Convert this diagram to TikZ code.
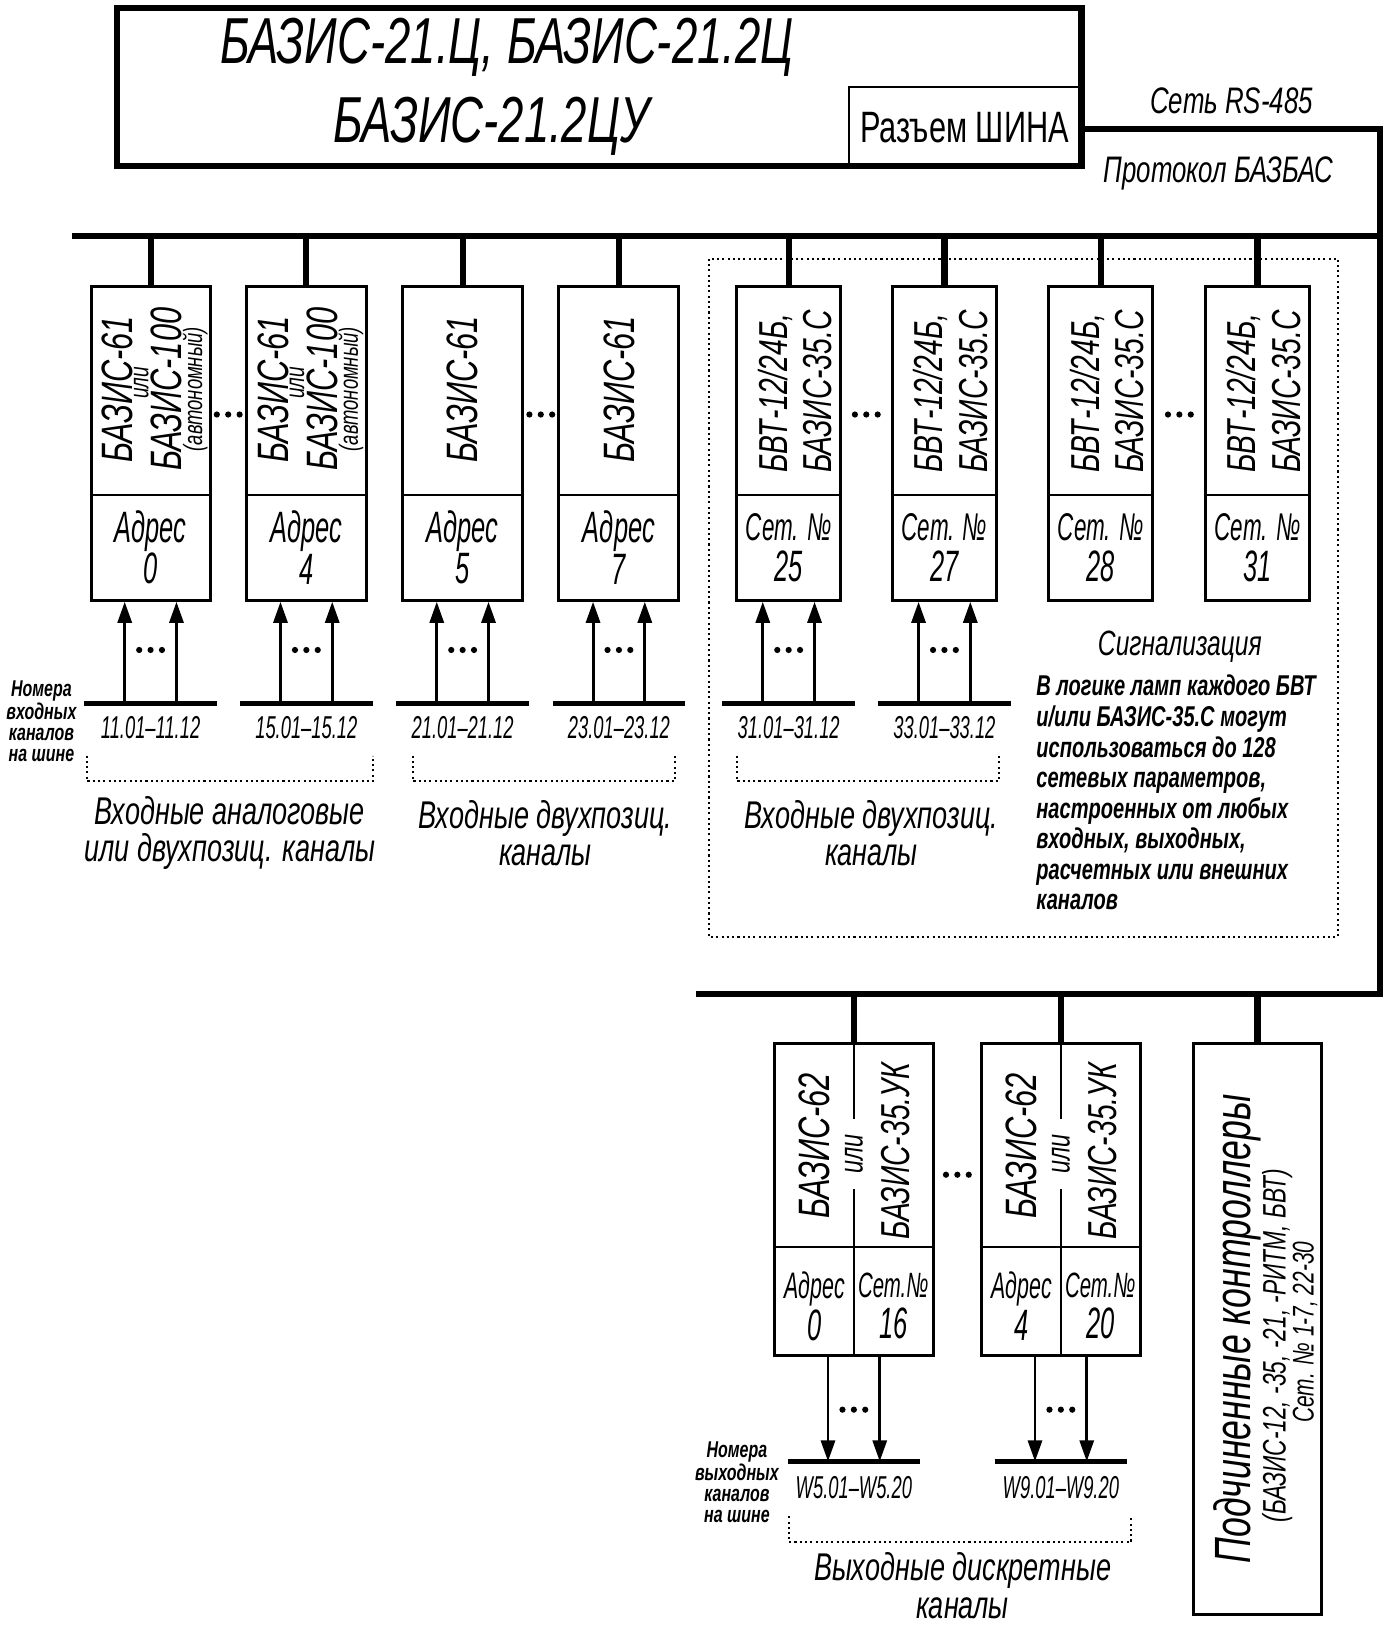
\documentclass[tikz,border=0pt]{standalone}
\usepackage{fontspec}
\setmainfont{Liberation Sans}[FakeStretch=0.7]
\newfontfamily\narrowf{Liberation Sans}[FakeStretch=0.58]
\usetikzlibrary{calc}
\usetikzlibrary{fit}
\usetikzlibrary{arrows.meta}

\tikzset{
  bus/.style={line width=3.5pt},
  bar/.style={line width=2.8pt},
  modbox/.style={draw, line width=1.7pt, inner sep=0pt},
  divline/.style={line width=1pt},
  sig/.style={line width=1.7pt, -{Triangle[length=4.2mm, width=2.8mm]}},
  dotline/.style={line width=1.2pt, dash pattern=on 1.2pt off 1.8pt},
  ttl/.style={font=\fontsize{37}{44}\selectfont\itshape, inner sep=0pt},
  lbl/.style={font=\fontsize{21}{25}\selectfont\itshape, inner sep=0pt},
  modtxt/.style={font=\fontsize{25}{25}\selectfont\itshape, rotate=90, inner sep=0pt},
  addr/.style={font=\narrowf\fontsize{25}{23.6}\selectfont\itshape, align=center, inner sep=0pt},
  chan/.style={font=\narrowf\fontsize{18}{20}\selectfont\itshape, inner sep=0pt},
  grp/.style={font=\fontsize{22}{21.2}\selectfont\itshape, align=center, inner sep=0pt},
  note/.style={font=\fontsize{13}{12}\selectfont\bfseries\itshape, align=center, inner sep=0pt},
}
\newcommand{\tridots}[1]{\foreach \dd in {-11,0,11}{\fill ($(#1)+(\dd,0)$) circle (0.62mm);}}

\begin{document}
\begin{tikzpicture}[x=0.207mm, y=-0.207mm]
\useasboundingbox (0,0) rectangle (1341,1572);

% main unit
\node[modbox, line width=3.5pt, fit={(113,8) (1045,160)}] (base) {};
\node[modbox, line width=1.2pt, fit={(820,84) (1045,160)}] (conn) {};
\node[font=\fontsize{25}{28}\selectfont, inner sep=0pt] (connt) at (932,123) {Разъем ШИНА};
\node[ttl] (ttl1) at (490,46) {БАЗИС-21.Ц, БАЗИС-21.2Ц};
\node[ttl] (ttl2) at (475,122) {БАЗИС-21.2ЦУ};

% network line
\coordinate (ne) at (1333,125);
\coordinate (se) at (1333,960);
\coordinate (tl) at (70,228);
\coordinate (tr) at (1333,228);
\coordinate (bl) at (672,960);
\draw[bus] (conn.east |- ne) -- (ne) -- (se) -- (bl);
\draw[bus] (tl) -- (tr);
\node[lbl] (rs) at (1190,97) {Сеть RS-485};
\node[lbl] (proto) at (1177,168) {Протокол БАЗБАС};

% input modules
\foreach \n/\xa/\xb in {1/88/203,2/238/354,3/389/505,4/540/656,5/712/812,6/862/963,7/1013/1114,8/1165/1265}{
  \node[modbox, fit={(\xa,277) (\xb,580)}] (m\n) {};
  \draw[divline] (m\n.west |- 0,478) -- (m\n.east |- 0,478);
  \draw[bus] (m\n.north |- tl) -- (m\n.north);
  \coordinate (mc\n) at (m\n.north |- 0,376);
}
\foreach \n in {1,2}{
  \node[modtxt] (na\n) at ($(mc\n)+(-32,0)$) {БАЗИС-61};
  \node[modtxt, font=\fontsize{15.5}{16}\selectfont\itshape] (nb\n) at ($(mc\n)+(-9,-6)$) {или};
  \node[modtxt] (nc\n) at ($(mc\n)+(15,0)$) {БАЗИС-100};
  \node[modtxt, font=\fontsize{15}{15}\selectfont\itshape] (nd\n) at ($(mc\n)+(43,0)$) {(автономный)};
}
\foreach \n in {3,4}{
  \node[modtxt] (na\n) at (mc\n) {БАЗИС-61};
}
\foreach \n in {5,...,8}{
  \node[modtxt, anchor=west, align=left, font=\fontsize{23}{25.3}\selectfont\itshape] (na\n) at ($(m\n.north |- 0,457)+(6,0)$) {БВТ-12/24Б,\\БАЗИС-35.С};
}
\foreach \n/\v in {1/0,2/4,3/5,4/7}{
  \node[addr] (ad\n) at (m\n.north |- 0,529) {Адрес\\\v};
}
\foreach \n/\v in {5/25,6/27,7/28,8/31}{
  \node[addr] (ad\n) at (m\n.north |- 0,529) {{\fontsize{22}{23.6}\selectfont Сет. №}\\\v};
}
\foreach \p/\q in {1/2,3/4,5/6,7/8}{
  \coordinate (g\p) at ($(m\p.east)!0.5!(m\q.west)+(0,-28)$);
  \tridots{g\p}
}

% input channels
\foreach \n/\lab in {1/11.01–11.12,2/15.01–15.12,3/21.01–21.12,4/23.01–23.12,5/31.01–31.12,6/33.01–33.12}{
  \coordinate (b\n) at (m\n.south |- 0,680);
  \draw[bar] ($(b\n)+(-64,0)$) -- ($(b\n)+(64,0)$);
  \draw[sig] ($(b\n)+(-25,0)$) -- ($(m\n.south)+(-25,0)$);
  \draw[sig] ($(b\n)+(25,0)$) -- ($(m\n.south)+(25,0)$);
  \coordinate (d\n) at ($(b\n)+(0,-52)$);
  \tridots{d\n}
  \node[chan] (ch\n) at ($(b\n)+(0,23)$) {\lab};
}
\node[note] (inno) at (40,697) {Номера\\входных\\каналов\\на шине};
\draw[dotline] (84,730) -- (84,755) -- (360,755) -- (360,730);
\draw[dotline] (399,730) -- (399,755) -- (652,755) -- (652,730);
\draw[dotline] (712,730) -- (712,755) -- (965,755) -- (965,730);
\node[grp] (gr1) at (222,805) {Входные аналоговые\\или двухпозиц. каналы};
\node[grp] (gr2) at (527,805) {Входные двухпозиц.\\каналы};
\node[grp] (gr3) at (842,805) {Входные двухпозиц.\\каналы};

% alarm area
\draw[dotline] (685,250) rectangle (1293,905);
\node[lbl, font=\fontsize{20}{24}\selectfont\itshape] (sg) at (1140,625) {Сигнализация};
\node[anchor=north west, align=left, inner sep=0pt, font=\fontsize{16.3}{17.4}\selectfont\bfseries\itshape] (sgt) at (1001,652) {В логике ламп каждого БВТ\\и/или БАЗИС-35.С могут\\использоваться до 128\\сетевых параметров,\\настроенных от любых\\входных, выходных,\\расчетных или внешних\\каналов};

% output modules
\foreach \n/\xa/\xb in {1/748/902,2/948/1102}{
  \node[modbox, fit={(\xa,1008) (\xb,1310)}] (o\n) {};
  \draw[divline] (o\n.west |- 0,1205) -- (o\n.east |- 0,1205);
  \draw[divline] (o\n.north) -- (o\n.south);
  \draw[bus] (o\n.north |- bl) -- (o\n.north);
  \node[modtxt] (oa\n) at ($(o\n.north |- 0,1107)+(-38,0)$) {БАЗИС-62};
  \node[modtxt, font=\fontsize{19}{19}\selectfont\itshape, fill=white, inner xsep=9pt, inner ysep=1pt] (ob\n) at (o\n.north |- 0,1115) {или};
  \node[modtxt, font=\fontsize{23}{23}\selectfont\itshape] (oc\n) at ($(o\n.north |- 0,1112)+(40,0)$) {БАЗИС-35.УК};
}
\foreach \n/\v/\w in {1/0/16,2/4/20}{
  \node[addr] (oad\n) at ($(o\n.north |- 0,1262)+(-38,0)$) {{\fontsize{21}{23.6}\selectfont Адрес}\\\v};
  \node[addr] (osn\n) at ($(o\n.north |- 0,1262)+(38,0)$) {{\fontsize{20}{23.6}\selectfont Сет.№}\\\w};
}
\coordinate (h1) at ($(o1.east)!0.5!(o2.west)+(0,-24)$);
\tridots{h1}
\foreach \n/\lab in {1/W5.01–W5.20,2/W9.01–W9.20}{
  \coordinate (w\n) at (o\n.south |- 0,1412);
  \draw[bar] ($(w\n)+(-64,0)$) -- ($(w\n)+(64,0)$);
  \draw[sig] ($(o\n.south)+(-25,0)$) -- ($(w\n)+(-25,0)$);
  \draw[sig] ($(o\n.south)+(25,0)$) -- ($(w\n)+(25,0)$);
  \coordinate (e\n) at ($(w\n)+(0,-50)$);
  \tridots{e\n}
  \node[chan] (wl\n) at ($(w\n)+(0,25)$) {\lab};
}
\node[note] (outno) at (712,1432) {Номера\\выходных\\каналов\\на шине};
\draw[dotline] (762,1465) -- (762,1490) -- (1093,1490) -- (1093,1465);
\node[grp] (gr4) at (930,1532) {Выходные дискретные\\каналы};

% slave controllers
\node[modbox, fit={(1153,1008) (1277,1560)}] (sub) {};
\draw[bus] (sub.north |- bl) -- (sub.north);
\node[modtxt, font=\fontsize{29}{29}\selectfont\itshape] (suba) at (1195,1284) {Подчиненные контроллеры};
\node[modtxt, font=\fontsize{18.5}{18.5}\selectfont\itshape] (subb) at (1234,1300) {(БАЗИС-12, -35, -21, -РИТМ, БВТ)};
\node[modtxt, font=\fontsize{17}{17}\selectfont\itshape] (subc) at (1261,1287) {Сет. № 1-7, 22-30};
\end{tikzpicture}
\end{document}
